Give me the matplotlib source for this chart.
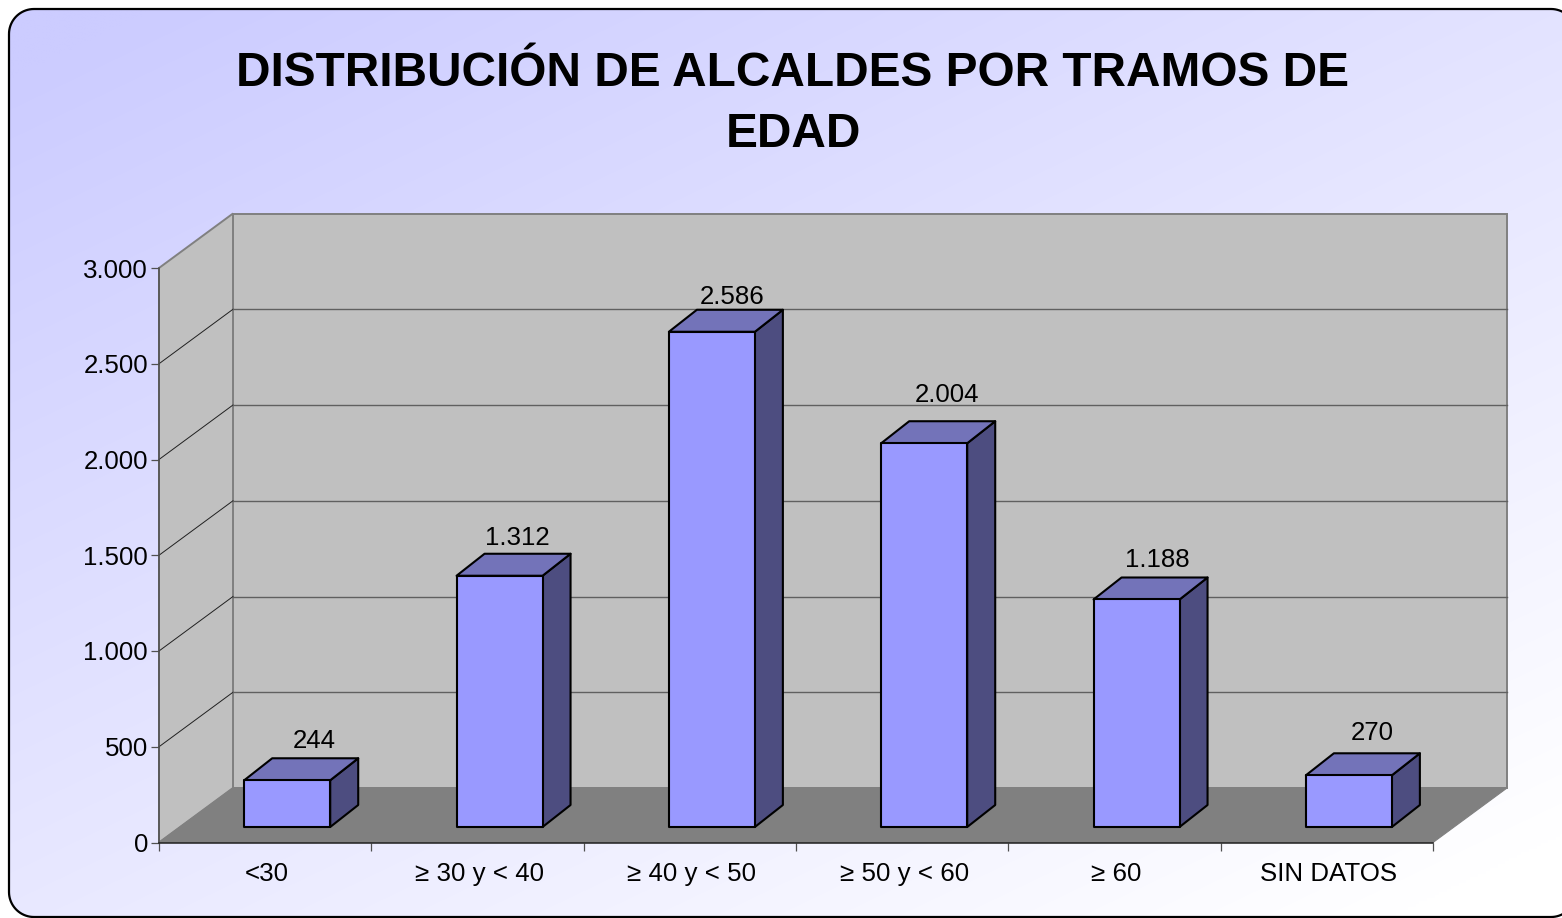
import numpy as np
from matplotlib import pyplot as plt
from matplotlib.patches import Polygon

plt.rcParams['font.family'] = ['Liberation Sans', 'DejaVu Sans']

# datos del grafico
categorias = ['<30', '≥ 30 y < 40', '≥ 40 y < 50', '≥ 50 y < 60', '≥ 60', 'SIN DATOS']
alcaldes = [244, 1312, 2586, 2004, 1188, 270]
etiquetas = ['244', '1.312', '2.586', '2.004', '1.188', '270']
ticks_y = [0, 500, 1000, 1500, 2000, 2500, 3000]
ticks_y_txt = ['0', '500', '1.000', '1.500', '2.000', '2.500', '3.000']
titulo = 'DISTRIBUCIÓN DE ALCALDES POR TRAMOS DE\nEDAD'

# ajuste de cada etiqueta respecto a la cara trasera de la barra (pixeles)
ajuste_x = [-1, -10, -8, -5, -7, -5]
ajuste_y = [17, 16, 12.5, 26, 17.5, 20.5]

W, H = 1562, 918
fig = plt.figure(figsize=(W / 100, H / 100), dpi=100)

# fondo con degradado y borde redondeado (el borde derecho se sale del lienzo)
bg = fig.add_axes([0, 0, 1, 1])
bg.axis('off')
xx, yy = np.meshgrid(np.linspace(0, 1, 400), np.linspace(0, 1, 300))
t = np.clip((0.45 * xx + 0.55 * yy - 0.05) / 0.9, 0, 1)
rgb = np.dstack([204 + 51 * t, 204 + 51 * t, 255 + 0 * t]) / 255
img = bg.imshow(rgb, extent=[0, W, H, 0], aspect='auto', interpolation='bilinear')

r = 25
izq, der, arr, aba = 9, 1576, 9, 917
ang = np.linspace(0, np.pi / 2, 20)
esquinas = [
    (izq + r - r * np.cos(ang), arr + r - r * np.sin(ang)),
    (der - r + r * np.sin(ang), arr + r - r * np.cos(ang)),
    (der - r + r * np.cos(ang), aba - r + r * np.sin(ang)),
    (izq + r - r * np.sin(ang), aba - r + r * np.cos(ang)),
]
borde = np.column_stack([np.concatenate([e[0] for e in esquinas]),
                         np.concatenate([e[1] for e in esquinas])])
marco = Polygon(borde, closed=True, fc='none', ec='black', lw=1.6)
bg.add_patch(marco)
img.set_clip_path(marco)
bg.set_xlim(0, W)
bg.set_ylim(H, 0)

# plano frontal del grafico: x en categorias, y en alcaldes
ax = fig.add_axes([159 / W, 1 - 842.5 / H, 1274 / W, 574.5 / H])
ax.patch.set_alpha(0)
ax.set_xlim(0, 6)
ax.set_ylim(0, 3000)
for lado in ['top', 'right']:
    ax.spines[lado].set_visible(False)
ax.spines['left'].set_color('#505050')
ax.spines['bottom'].set_color('#202020')
ax.spines['left'].set_linewidth(1.1)
ax.spines['bottom'].set_linewidth(1.1)
ax.spines['left'].set_zorder(6)
ax.spines['bottom'].set_zorder(6)

px_x = 6 / 1274
px_y = 3000 / 574.5
fondo_x = 74 * px_x
fondo_y = 54.5 * px_y


def p(x, y, f=0.0):
    # punto del plano frontal desplazado una fraccion f de la profundidad
    return (x + f * fondo_x, y + f * fondo_y)


gris = '#808080'
ax.add_patch(Polygon([p(0, 0, 1), p(6, 0, 1), p(6, 3000, 1), p(0, 3000, 1)],
                     fc='#C0C0C0', ec=gris, lw=1.4, clip_on=False, zorder=1))
ax.add_patch(Polygon([p(0, 0), p(0, 0, 1), p(0, 3000, 1), p(0, 3000)],
                     fc='#C0C0C0', ec=gris, lw=1.4, clip_on=False, zorder=1))
ax.add_patch(Polygon([p(0, 0), p(6, 0), p(6, 0, 1), p(0, 0, 1)],
                     fc=gris, ec=gris, lw=0.8, clip_on=False, zorder=2))

for v in ticks_y[1:-1]:
    ax.plot(*zip(p(0, v), p(0, v, 1)), color='#202020', lw=0.7, clip_on=False, zorder=2)
    ax.plot(*zip(p(0, v, 1), p(6, v, 1)), color='#606060', lw=1.0, clip_on=False, zorder=2)

# barras en 3D
ancho = 86 * px_x
f_ini = 15.5 / 54.5
barra_dx = 28 * px_x
barra_dy = 22 * px_y
for i, v in enumerate(alcaldes):
    x0, _ = p(i + 0.5 - ancho / 2 + px_x, 0, f_ini)
    x1 = x0 + ancho
    _, y0 = p(0, 0, f_ini)
    y1 = y0 + v
    z = 3 + i * 0.1
    cara = [(x0, y0), (x1, y0), (x1, y1), (x0, y1)]
    techo = [(x0, y1), (x1, y1), (x1 + barra_dx, y1 + barra_dy), (x0 + barra_dx, y1 + barra_dy)]
    lado_b = [(x1, y0), (x1 + barra_dx, y0 + barra_dy), (x1 + barra_dx, y1 + barra_dy), (x1, y1)]
    for pts, col in [(lado_b, '#4D4D80'), (techo, '#7373B9'), (cara, '#9999FF')]:
        ax.add_patch(Polygon(pts, fc=col, ec='black', lw=1.5, clip_on=False, zorder=z, joinstyle='round'))
    ax.text((x0 + x1) / 2 + barra_dx + ajuste_x[i] * px_x, y1 + barra_dy + ajuste_y[i] * px_y,
            etiquetas[i], ha='center', va='center', fontsize=18.6, color='black', zorder=8)

# ejes
ax.set_yticks(ticks_y)
ax.set_yticklabels(ticks_y_txt, fontsize=18.6)
ax.set_xticks(range(7))
ax.set_xticklabels([])
ax.set_xticks(np.arange(6) + 0.5 + 2 * px_x, minor=True)
ax.set_xticklabels(categorias, minor=True, fontsize=18.6)
ax.tick_params(axis='y', length=6, width=0.9, color='#505050', pad=2)
ax.tick_params(axis='x', which='major', length=6, width=0.9, color='#505050')
ax.tick_params(axis='x', which='minor', length=0, pad=14.2)

# titulo
bg.text(793, 104, titulo, ha='center', va='center', fontsize=34.4, fontweight='bold',
        color='black', linespacing=1.44)

plt.savefig('out.png', dpi=100)
